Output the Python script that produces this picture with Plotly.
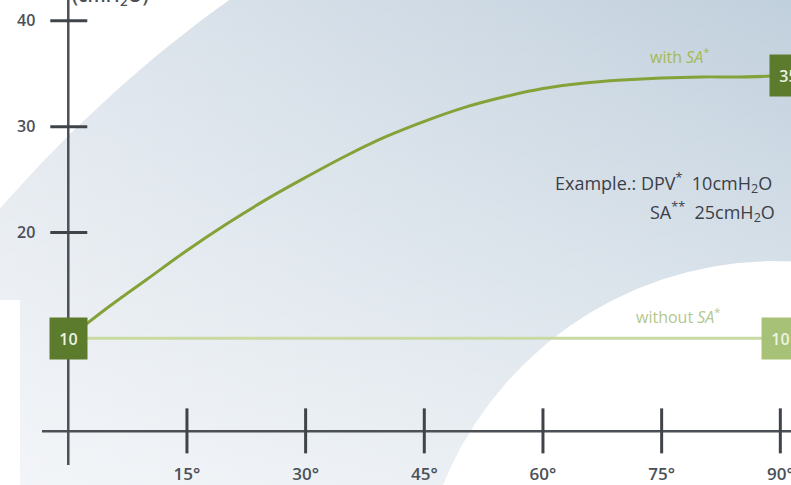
import numpy as np
import plotly.graph_objects as go

# ---------------- data ----------------
ANGLES = [15, 30, 45, 60, 75, 90]
ANGLE_LABELS = ["15°", "30°", "45°", "60°", "75°", "90°"]
PRESSURE_TICKS = [20, 30, 40]
PRESSURE_LABELS = ["20", "30", "40"]

WITH_SA_X = [0, 5, 10, 15, 20, 25, 30, 35, 40, 45, 50, 55, 60, 65, 70, 75, 80, 85, 90]
WITH_SA_Y = [10, 12.9, 15.6, 18.3, 20.8, 23.1, 25.2, 27.2, 29.0, 30.5, 31.8, 32.8,
             33.6, 34.1, 34.4, 34.6, 34.7, 34.7, 34.8]
WITHOUT_SA_X = [0, 90]
WITHOUT_SA_Y = [10, 10]

START_LABEL = "10"
END_WITH_LABEL = "35"
END_WITHOUT_LABEL = "10"

# ---------------- geometry / style ----------------
W, H = 791, 485
X0, X1 = -8.63, 91.35
Y0, Y1 = -3.87, 41.97
SX = (X1 - X0) / W      # data units per px (x)
SY = (Y1 - Y0) / H      # data units per px (y)


def px_x(px):
    return X0 + px * SX


def px_y(py):
    return Y1 - py * SY


FONT = "Open Sans, Liberation Sans, sans-serif"
AXIS_COLOR = "#4b5057"
TICK_COLOR = "#3f444b"
DARK_GREEN = "#5c7b2d"
MID_GREEN = "#84a238"
LIGHT_GREEN = "#c9d9a2"
BOX_LIGHT = "#a7c176"
X_AXIS_Y = 1.2

fig = go.Figure()

# ---- background curved band (decoration) ----
def circle_pts(cx, cy, r, a0, a1, n=200):
    t = np.radians(np.linspace(a0, a1, n))
    return cx + r * np.cos(t), cy + r * np.sin(t)

ox, oy = circle_pts(1016, 1093, 1347, 180, 270)
ix, iy = circle_pts(776, 621, 360, 300, 180)
bx = np.concatenate([ox, ix, ox[:1]])
by = np.concatenate([oy, iy, oy[:1]])
band_x = [px_x(v) for v in bx]
band_y = [px_y(v) for v in by]

fig.add_trace(go.Scatter(
    x=band_x, y=band_y, mode="lines", fill="toself", line=dict(width=0),
    fillgradient=dict(type="horizontal", colorscale=[[0, "#e1e7ee"], [1, "#c1d0dd"]],
                      start=X0, stop=X1),
    hoverinfo="skip", showlegend=False))
fig.add_trace(go.Scatter(
    x=band_x, y=band_y, mode="lines", fill="toself", line=dict(width=0),
    fillgradient=dict(type="vertical",
                      colorscale=[[0, "rgba(255,255,255,0.6)"], [1, "rgba(255,255,255,0)"]],
                      start=Y0, stop=Y1),
    hoverinfo="skip", showlegend=False))
# white strip at the lower left edge
fig.add_trace(go.Scatter(
    x=[px_x(0), px_x(20), px_x(20), px_x(0), px_x(0)],
    y=[px_y(300), px_y(300), px_y(H), px_y(H), px_y(300)],
    mode="lines", fill="toself", fillcolor="white", line=dict(width=0),
    hoverinfo="skip", showlegend=False))

# ---- axis lines ----
fig.add_trace(go.Scatter(
    x=[px_x(42), X1 + 2, None, 0, 0],
    y=[X_AXIS_Y, X_AXIS_Y, None, px_y(465), Y1 + 2],
    mode="lines", line=dict(color=AXIS_COLOR, width=2.5),
    hoverinfo="skip", showlegend=False))

# ---- tick marks ----
tx, ty = [], []
for a in ANGLES:
    tx += [a, a, None]
    ty += [X_AXIS_Y + 23 * SY, X_AXIS_Y - 22 * SY, None]
for p in PRESSURE_TICKS:
    tx += [-18 * SX, 19 * SX, None]
    ty += [p, p, None]
fig.add_trace(go.Scatter(x=tx, y=ty, mode="lines",
                         line=dict(color=TICK_COLOR, width=3),
                         hoverinfo="skip", showlegend=False))

# ---- data lines ----
fig.add_trace(go.Scatter(x=WITHOUT_SA_X, y=WITHOUT_SA_Y, mode="lines",
                         line=dict(color=LIGHT_GREEN, width=3),
                         hoverinfo="skip", showlegend=False))
fig.add_trace(go.Scatter(x=WITH_SA_X, y=WITH_SA_Y, mode="lines",
                         line=dict(color=MID_GREEN, width=3, shape="spline"),
                         hoverinfo="skip", showlegend=False))

# ---- value boxes ----
box_font = dict(family=FONT, size=16, color="#eef3e2", weight=600)
for bx_, by_, label, col, shift in [
        (WITH_SA_X[0], WITH_SA_Y[0], START_LABEL, DARK_GREEN, 0),
        (WITH_SA_X[-1], WITH_SA_Y[-1], END_WITH_LABEL, DARK_GREEN, 8),
        (WITHOUT_SA_X[-1], WITHOUT_SA_Y[-1], END_WITHOUT_LABEL, BOX_LIGHT, 0)]:
    fig.add_annotation(x=bx_, y=by_, text=label, showarrow=False, xshift=shift,
                       xanchor="center", yanchor="middle",
                       width=37, height=41, borderpad=0, bgcolor=col,
                       font=box_font)

# ---- annotations ----
fig.add_annotation(x=px_x(711), y=px_y(56), xanchor="right", yanchor="middle",
                   text="with <i>SA</i><sup>*</sup>", showarrow=False,
                   font=dict(family=FONT, size=16, color="#a3b955"))
fig.add_annotation(x=px_x(722), y=px_y(316), xanchor="right", yanchor="middle",
                   text="without <i>SA</i><sup>*</sup>", showarrow=False,
                   font=dict(family=FONT, size=16, color="#b3c78e"))
fig.add_annotation(x=px_x(774), y=px_y(183), xanchor="right", yanchor="middle",
                   text="Example.: DPV<sup>*</sup>\u00a0\u00a010cmH<sub>2</sub>O", showarrow=False,
                   font=dict(family=FONT, size=18, color="#3b4048"))
fig.add_annotation(x=px_x(777), y=px_y(212), xanchor="right", yanchor="middle",
                   text="SA<sup>**</sup>\u00a0\u00a025cmH<sub>2</sub>O", showarrow=False,
                   font=dict(family=FONT, size=18, color="#3b4048"))
# axis unit, mostly cut off by the top edge as in the original
fig.add_annotation(x=110 / W, y=1, xref="paper", yref="paper", yshift=4,
                   xanchor="center", yanchor="middle",
                   text="(cmH<sub>2</sub>O)", showarrow=False,
                   font=dict(family=FONT, size=19, color="#4b5057", weight=600))

fig.update_layout(
    width=W, height=H,
    margin=dict(l=0, r=0, t=0, b=0),
    paper_bgcolor="white", plot_bgcolor="white",
    showlegend=False,
    xaxis=dict(range=[X0, X1], domain=[0, 1], anchor="free", position=1 - 462 / H,
               showgrid=False, zeroline=False, showline=False, ticks="",
               tickvals=ANGLES, ticktext=ANGLE_LABELS, automargin=False,
               ticklabeloverflow="allow",
               tickfont=dict(family=FONT, size=17, color=AXIS_COLOR, weight=600)),
    yaxis=dict(range=[Y0, Y1], domain=[0, 1], anchor="free", position=68.3 / W,
               showgrid=False, zeroline=False, showline=False, ticks="",
               tickvals=PRESSURE_TICKS, ticktext=PRESSURE_LABELS, automargin=False,
               ticklabelstandoff=33, ticklabeloverflow="allow",
               tickfont=dict(family=FONT, size=16, color=AXIS_COLOR, weight=600)),
)

fig.write_html("out.html", config={"displayModeBar": False},
               post_script="document.body.style.margin='0';document.body.style.overflow='hidden';")
